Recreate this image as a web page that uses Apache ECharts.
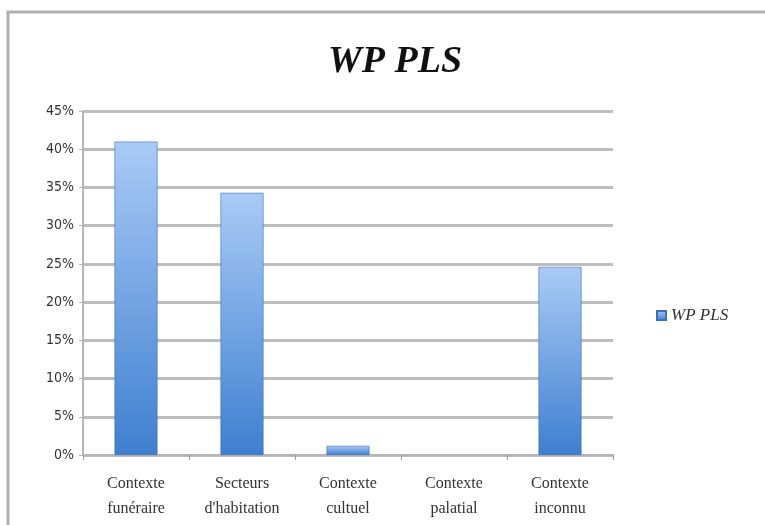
<!DOCTYPE html>
<html>
<head>
<meta charset="utf-8">
<script src="https://cdn.jsdelivr.net/npm/echarts@6/dist/echarts.min.js"></script>
<style>
  html, body { margin: 0; padding: 0; background: #fff; }
  #chart { width: 765px; height: 525px; }
</style>
</head>
<body>
<div id="chart"></div>
<script>
// Share of WP PLS finds by context type
const categories = ['Contexte\nfunéraire', 'Secteurs\nd\'habitation', 'Contexte\ncultuel', 'Contexte\npalatial', 'Contexte\ninconnu'];
const seriesName = 'WP PLS';
const values = [41.0, 34.3, 1.2, 0, 24.6];
const yTicks = [0, 5, 10, 15, 20, 25, 30, 35, 40, 45];

const chart = echarts.init(document.getElementById('chart'), null, { renderer: 'canvas' });

const barFill = new echarts.graphic.LinearGradient(0, 0, 0, 1, [
  { offset: 0, color: '#a9cbf6' },
  { offset: 1, color: '#3f7fd0' }
]);

// empty categories get no outline so nothing is drawn for them
const barData = values.map(v => v === 0 ? { value: v, itemStyle: { borderWidth: 0, opacity: 0 } } : v);

chart.setOption({
  backgroundColor: '#ffffff',
  animation: false,
  title: {
    text: seriesName,
    left: 390,
    textAlign: 'center',
    top: 38,
    textStyle: {
      fontFamily: 'Liberation Serif',
      fontStyle: 'italic',
      fontWeight: 'bold',
      fontSize: 38,
      color: '#111'
    }
  },
  legend: {
    data: [seriesName],
    left: 651,
    top: 302,
    itemWidth: 9,
    itemHeight: 9,
    itemGap: 6,
    icon: 'rect',
    textStyle: {
      fontFamily: 'Liberation Serif',
      fontStyle: 'italic',
      fontSize: 17,
      color: '#333'
    }
  },
  grid: { left: 83, right: 152, top: 111, bottom: 70, containLabel: false },
  xAxis: {
    type: 'category',
    data: categories,
    axisLine: { lineStyle: { color: '#b5b5b5', width: 2 } },
    axisTick: { show: true, length: 5, lineStyle: { color: '#9a9a9a', width: 1 } },
    axisLabel: {
      margin: 16,
      fontFamily: 'Liberation Serif',
      fontSize: 16,
      lineHeight: 25,
      color: '#333',
      interval: 0
    }
  },
  yAxis: {
    type: 'value',
    min: yTicks[0],
    max: yTicks[yTicks.length - 1],
    interval: 5,
    axisLine: { show: true, lineStyle: { color: '#b5b5b5', width: 2 } },
    axisTick: { show: true, length: 4, lineStyle: { color: '#b5b5b5' } },
    splitLine: { lineStyle: { color: '#bdbdbd', width: 3 } },
    axisLabel: {
      margin: 9,
      fontFamily: 'DejaVu Sans Condensed',
      fontSize: 14,
      color: '#333',
      formatter: v => v + '%'
    }
  },
  series: [{
    name: seriesName,
    type: 'bar',
    data: barData,
    barWidth: 43,
    itemStyle: {
      color: barFill,
      borderColor: '#3a70b8',
      borderWidth: 0.6
    }
  }],
  graphic: [{
    type: 'polyline',
    shape: { points: [[8, 525], [8, 12], [765, 12]] },
    style: { stroke: '#b0b0b0', lineWidth: 3, fill: null },
    silent: true
  }]
});
</script>
</body>
</html>
